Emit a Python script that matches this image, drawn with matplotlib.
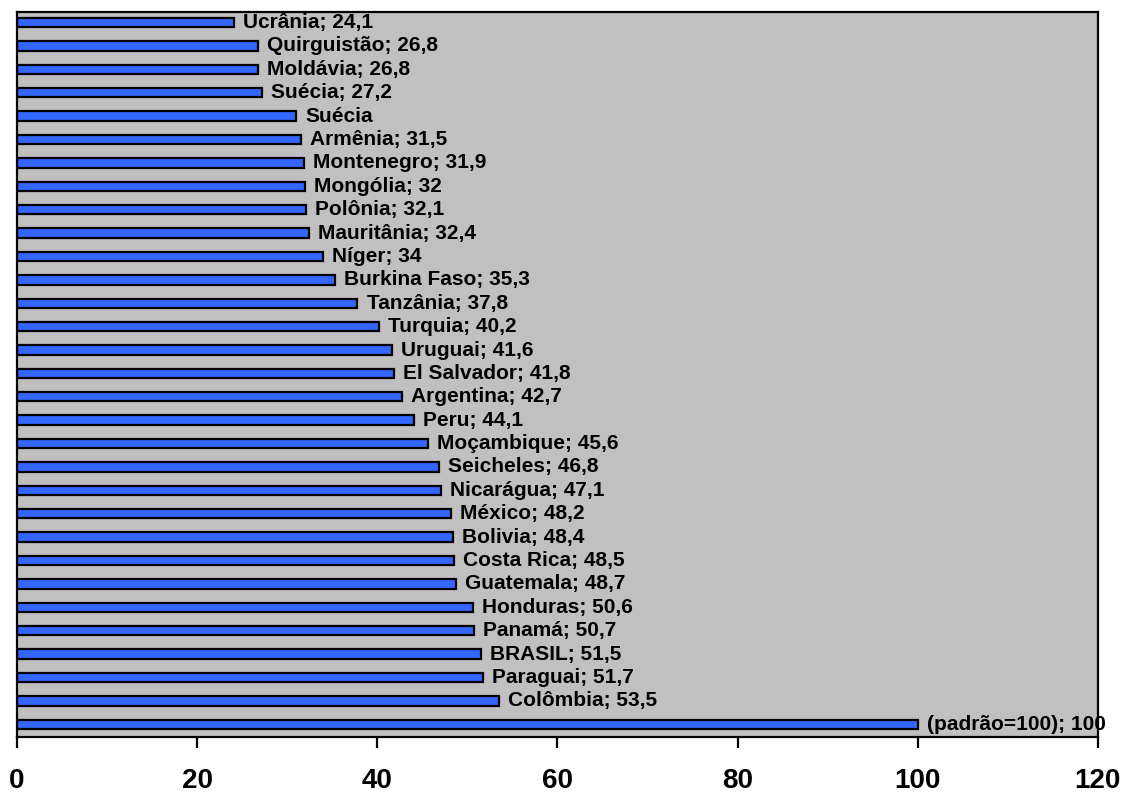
import matplotlib.pyplot as plt

# de cima para baixo
paises = ['Ucrânia', 'Quirguistão', 'Moldávia', 'Suécia', 'Suécia', 'Armênia',
          'Montenegro', 'Mongólia', 'Polônia', 'Mauritânia', 'Níger',
          'Burkina Faso', 'Tanzânia', 'Turquia', 'Uruguai', 'El Salvador',
          'Argentina', 'Peru', 'Moçambique', 'Seicheles', 'Nicarágua', 'México',
          'Bolivia', 'Costa Rica', 'Guatemala', 'Honduras', 'Panamá', 'BRASIL',
          'Paraguai', 'Colômbia', '(padrão=100)']
valores = [24.1, 26.8, 26.8, 27.2, 31.0, 31.5, 31.9, 32, 32.1, 32.4, 34,
           35.3, 37.8, 40.2, 41.6, 41.8, 42.7, 44.1, 45.6, 46.8, 47.1, 48.2,
           48.4, 48.5, 48.7, 50.6, 50.7, 51.5, 51.7, 53.5, 100]
mostra_valor = [True] * len(paises)
mostra_valor[4] = False

n = len(paises)
pos = [n - 1 - i for i in range(n)]

fig = plt.figure(figsize=(11.33, 7.99), dpi=100)
ax = fig.add_axes([0.015, 0.0775, 0.954, 0.908])
ax.set_facecolor('#C0C0C0')

ax.barh(pos, valores, height=0.4, color='#3366FF', edgecolor='black',
        linewidth=1.6)

for p, nome, v, mv in zip(pos, paises, valores, mostra_valor):
    txt = nome
    if mv:
        txt += '; ' + ('%g' % v).replace('.', ',')
    ax.annotate(txt, (v, p), xytext=(6.5, 0), textcoords='offset points',
                va='center', ha='left', fontsize=15, fontweight='bold',
                family='Liberation Sans', annotation_clip=False, zorder=2)

ax.set_xlim(0, 120)
ax.set_ylim(-0.55, n - 0.53)
ax.set_xticks(range(0, 121, 20))
ax.set_yticks([])
ax.tick_params(axis='x', direction='out', length=8, width=1.6, pad=14)
for lbl in ax.get_xticklabels():
    lbl.set_fontsize(20)
    lbl.set_fontweight('bold')
    lbl.set_family('Liberation Sans')
for s in ax.spines.values():
    s.set_linewidth(1.6)

plt.savefig('out.png', dpi=100)
